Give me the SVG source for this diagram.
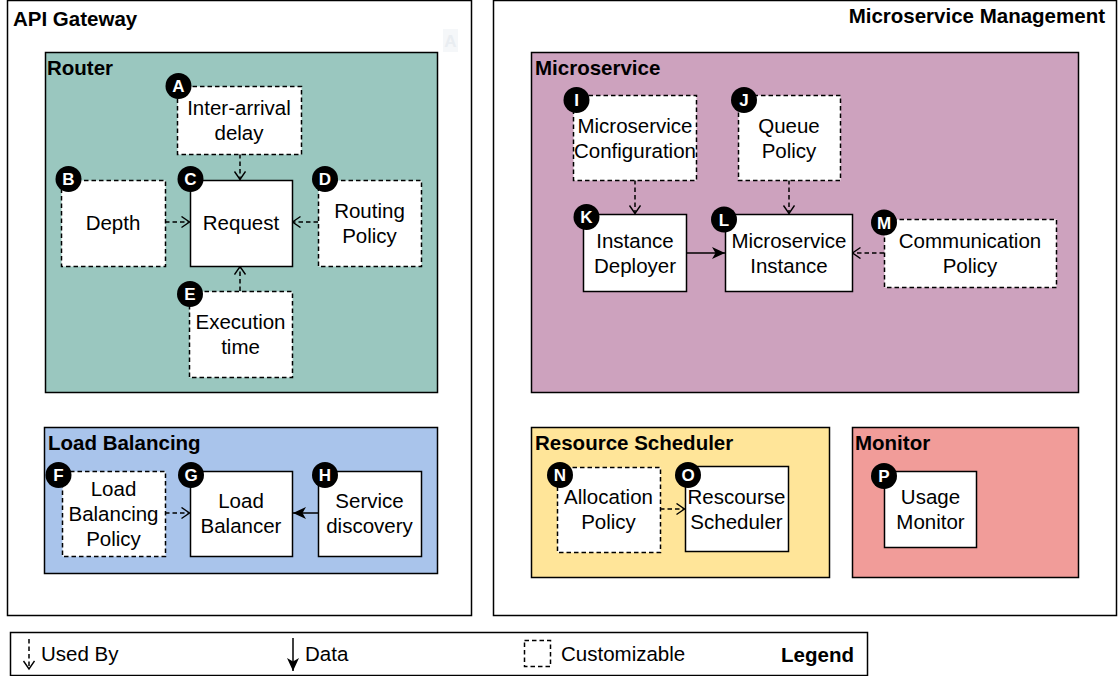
<svg xmlns="http://www.w3.org/2000/svg" width="1118" height="676" viewBox="0 0 1118 676">
<style>
text{font-family:"Liberation Sans",Arial,sans-serif;fill:#000}
.t{font-size:20.5px;font-weight:bold}
.n{font-size:20.5px;text-anchor:middle}
.lg{font-size:20.5px}
.box{fill:#fff;stroke:#000;stroke-width:1.5}
.dash{stroke-dasharray:4.5 3}
.grp{stroke:#000;stroke-width:1.5}
.b circle{fill:#000}
.b text{fill:#fff;font-size:17px;font-weight:bold;text-anchor:middle}
.c{fill:none;stroke:#000;stroke-width:1.5}
</style>
<defs>
<marker id="open" markerUnits="userSpaceOnUse" markerWidth="14" markerHeight="14" refX="9" refY="6" orient="auto">
<path d="M1,0.5 L9,6 L1,11.5" fill="none" stroke="#000" stroke-width="1.4"/>
</marker>
<marker id="fill" markerUnits="userSpaceOnUse" markerWidth="16" markerHeight="14" refX="13" refY="6" orient="auto">
<path d="M0,0 L13,6 L0,12 L3.5,6 Z" fill="#000"/>
</marker>
</defs>
<rect width="1118" height="676" fill="#fff"/>

<g id="api-gateway">
<rect class="grp" x="7.5" y="0.5" width="464" height="615" fill="#fff"/>
<text class="t" x="13" y="26">API Gateway</text>
<rect x="443" y="29" width="15" height="23" fill="#f5f7f9"/>
<text x="450.5" y="47" font-size="17" font-weight="bold" text-anchor="middle" style="fill:#e9edf1">A</text>
</g>
<g id="microservice-management">
<rect class="grp" x="493.5" y="0.5" width="623" height="615" fill="#fff"/>
<text class="t" x="1105" y="23" text-anchor="end">Microservice Management</text>
</g>

<g id="router">
<rect class="grp" x="45.5" y="52.5" width="392" height="340" fill="#9AC7BF"/>
<text class="t" x="47" y="75">Router</text>
</g>
<g id="load-balancing">
<rect class="grp" x="44.5" y="427.5" width="393" height="146" fill="#A9C4EB"/>
<text class="t" x="48" y="450">Load Balancing</text>
</g>
<g id="microservice">
<rect class="grp" x="531.5" y="52.5" width="547" height="340" fill="#CDA2BE"/>
<text class="t" x="535" y="75">Microservice</text>
</g>
<g id="resource-scheduler">
<rect class="grp" x="531.5" y="427.5" width="298" height="150" fill="#FFE599"/>
<text class="t" x="535" y="450">Resource Scheduler</text>
</g>
<g id="monitor">
<rect class="grp" x="852.5" y="427.5" width="226" height="150" fill="#F19C99"/>
<text class="t" x="855" y="450">Monitor</text>
</g>

<g id="connectors">
<path class="c dash" d="M240,154 L240,179.5" marker-end="url(#open)"/>
<path class="c dash" d="M165,222 L189.5,222" marker-end="url(#open)"/>
<path class="c dash" d="M318,222 L292.5,222" marker-end="url(#open)"/>
<path class="c dash" d="M240,291 L240,266.5" marker-end="url(#open)"/>
<path class="c dash" d="M165,513 L189.5,513" marker-end="url(#open)"/>
<path class="c" d="M318,513 L293,513" marker-end="url(#fill)"/>
<path class="c dash" d="M635,180 L635,213.5" marker-end="url(#open)"/>
<path class="c dash" d="M789,180 L789,213.5" marker-end="url(#open)"/>
<path class="c" d="M686,253 L725,253" marker-end="url(#fill)"/>
<path class="c dash" d="M884,253 L852.5,253" marker-end="url(#open)"/>
<path class="c dash" d="M660,509 L684.5,509" marker-end="url(#open)"/>
</g>

<g id="node-A">
<rect class="box dash" x="177.5" y="86.5" width="124" height="68"/>
<text class="n" x="239" y="114.5">Inter-arrival</text>
<text class="n" x="239" y="139.5">delay</text>
<g class="b"><circle cx="178.5" cy="86" r="13"/><text x="178.5" y="92">A</text></g>
</g>
<g id="node-B">
<rect class="box dash" x="61.5" y="180.5" width="104" height="86"/>
<text class="n" x="113" y="230">Depth</text>
<g class="b"><circle cx="68.5" cy="179" r="13"/><text x="68.5" y="185">B</text></g>
</g>
<g id="node-C">
<rect class="box" x="190.5" y="180.5" width="102" height="86"/>
<text class="n" x="241" y="230">Request</text>
<g class="b"><circle cx="190.5" cy="179" r="13"/><text x="190.5" y="185">C</text></g>
</g>
<g id="node-D">
<rect class="box dash" x="318.5" y="180.5" width="103" height="86"/>
<text class="n" x="369.5" y="217.5">Routing</text>
<text class="n" x="369.5" y="242.5">Policy</text>
<g class="b"><circle cx="325" cy="179" r="13"/><text x="325" y="185">D</text></g>
</g>
<g id="node-E">
<rect class="box dash" x="189.5" y="291.5" width="103" height="86"/>
<text class="n" x="240.5" y="328.5">Execution</text>
<text class="n" x="240.5" y="353.5">time</text>
<g class="b"><circle cx="190" cy="294" r="13"/><text x="190" y="300">E</text></g>
</g>
<g id="node-F">
<rect class="box dash" x="62.5" y="471.5" width="103" height="85"/>
<text class="n" x="113.5" y="495.5">Load</text>
<text class="n" x="113.5" y="520.5">Balancing</text>
<text class="n" x="113.5" y="545.5">Policy</text>
<g class="b"><circle cx="58.5" cy="475" r="13"/><text x="58.5" y="481">F</text></g>
</g>
<g id="node-G">
<rect class="box" x="190.5" y="471.5" width="102" height="85"/>
<text class="n" x="241" y="508">Load</text>
<text class="n" x="241" y="533">Balancer</text>
<g class="b"><circle cx="191" cy="475" r="13"/><text x="191" y="481">G</text></g>
</g>
<g id="node-H">
<rect class="box" x="318.5" y="471.5" width="103" height="85"/>
<text class="n" x="369.5" y="508">Service</text>
<text class="n" x="369.5" y="533">discovery</text>
<g class="b"><circle cx="325" cy="475" r="13"/><text x="325" y="481">H</text></g>
</g>
<g id="node-I">
<rect class="box dash" x="573.5" y="95.5" width="123" height="85"/>
<text class="n" x="635" y="132.5">Microservice</text>
<text class="n" x="635" y="157.5">Configuration</text>
<g class="b"><circle cx="576.5" cy="100" r="13"/><text x="576.5" y="106">I</text></g>
</g>
<g id="node-J">
<rect class="box dash" x="738.5" y="95.5" width="102" height="85"/>
<text class="n" x="789" y="132.5">Queue</text>
<text class="n" x="789" y="157.5">Policy</text>
<g class="b"><circle cx="744" cy="100" r="13"/><text x="744" y="106">J</text></g>
</g>
<g id="node-K">
<rect class="box" x="583.5" y="214.5" width="103" height="77"/>
<text class="n" x="635" y="247.5">Instance</text>
<text class="n" x="635" y="272.5">Deployer</text>
<g class="b"><circle cx="586.5" cy="217" r="13"/><text x="586.5" y="223">K</text></g>
</g>
<g id="node-L">
<rect class="box" x="725.5" y="214.5" width="127" height="77"/>
<text class="n" x="789" y="247.5">Microservice</text>
<text class="n" x="789" y="272.5">Instance</text>
<g class="b"><circle cx="724" cy="219.5" r="13"/><text x="724" y="225.5">L</text></g>
</g>
<g id="node-M">
<rect class="box dash" x="884.5" y="219.5" width="172" height="68"/>
<text class="n" x="970" y="247.5">Communication</text>
<text class="n" x="970" y="272.5">Policy</text>
<g class="b"><circle cx="884" cy="222.5" r="13"/><text x="884" y="228.5">M</text></g>
</g>
<g id="node-N">
<rect class="box dash" x="557.5" y="467.5" width="103" height="85"/>
<text class="n" x="608.5" y="504">Allocation</text>
<text class="n" x="608.5" y="529">Policy</text>
<g class="b"><circle cx="560" cy="475" r="13"/><text x="560" y="481">N</text></g>
</g>
<g id="node-O">
<rect class="box" x="685.5" y="466.5" width="103" height="85"/>
<text class="n" x="736.5" y="504">Rescourse</text>
<text class="n" x="736.5" y="529">Scheduler</text>
<g class="b"><circle cx="688" cy="475" r="13"/><text x="688" y="481">O</text></g>
</g>
<g id="node-P">
<rect class="box" x="884.5" y="471.5" width="92" height="76"/>
<text class="n" x="930.5" y="504">Usage</text>
<text class="n" x="930.5" y="529">Monitor</text>
<g class="b"><circle cx="884" cy="476" r="13"/><text x="884" y="482">P</text></g>
</g>

<g id="legend">
<rect class="grp" x="10.5" y="632.5" width="857" height="43" fill="#fff"/>
<path class="c dash" d="M29,639 L29,669" marker-end="url(#open)"/>
<text class="lg" x="41" y="661">Used By</text>
<path class="c" d="M293,638 L293,671" marker-end="url(#fill)"/>
<text class="lg" x="305" y="661">Data</text>
<rect class="c dash" x="524.5" y="640.5" width="26" height="26"/>
<text class="lg" x="561" y="661">Customizable</text>
<text class="t" x="854" y="662" text-anchor="end">Legend</text>
</g>
</svg>
